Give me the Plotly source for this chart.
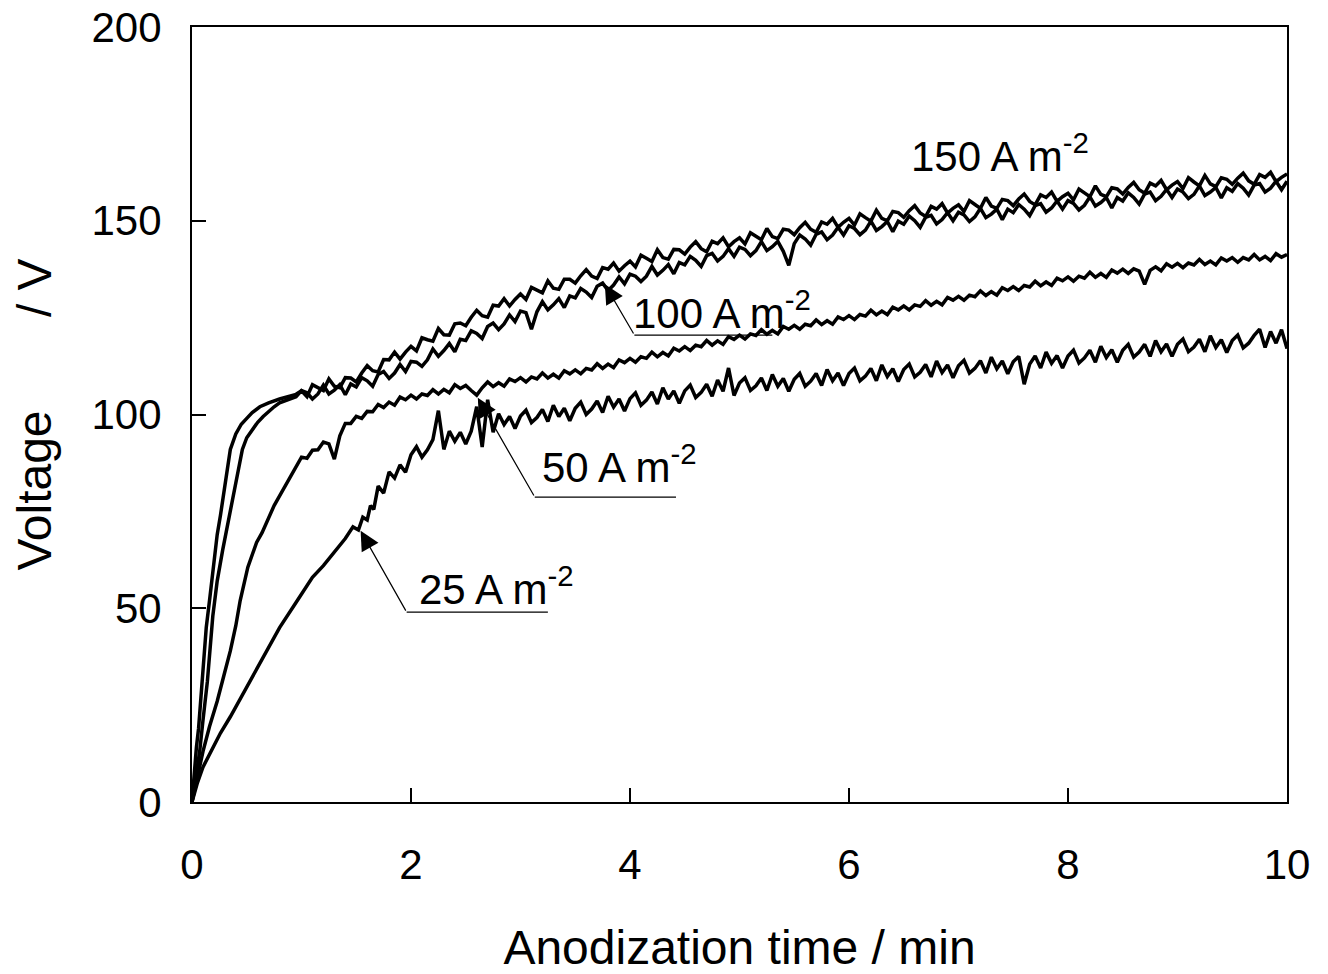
import numpy as np
import plotly.graph_objects as go

# ---------------- data ----------------
# early (steep) part of each curve: time / min and voltage / V
t150_early = [0, 0.02, 0.04, 0.06, 0.08, 0.10, 0.13, 0.16, 0.20, 0.23, 0.26, 0.28, 0.31,
              0.35, 0.40, 0.45, 0.50, 0.55, 0.62, 0.70, 0.80, 0.90, 0.95]
v150_early = [0, 8, 14, 19, 26, 35, 45, 52, 62, 69, 74, 78, 84,
              91, 95, 97.5, 99, 100.5, 102, 103, 104, 104.8, 105.2]

t100_early = [0, 0.03, 0.05, 0.07, 0.10, 0.14, 0.19, 0.23, 0.28, 0.33, 0.37, 0.42, 0.46,
              0.50, 0.55, 0.60, 0.65, 0.70, 0.75, 0.80, 0.85, 0.90, 0.95]
v100_early = [0, 6, 9, 13, 21, 31, 48, 57, 65, 72, 78, 85, 91,
              94, 96, 98, 99.5, 100.8, 102, 103, 103.5, 104.2, 104.6]

t50_early = [0, 0.05, 0.10, 0.16, 0.23, 0.29, 0.35, 0.40, 0.44, 0.51, 0.55, 0.59, 0.64,
             0.70, 0.75, 0.80, 0.85, 0.90, 0.95]
v50_early = [0, 7, 13, 19.5, 26, 32.5, 39, 45.5, 52, 60.6, 64, 67, 69.5,
             73.5, 76.5, 79, 81.5, 84, 86.5]

t25_early = [0, 0.05, 0.1, 0.18, 0.26, 0.35, 0.5, 0.65, 0.8, 0.95, 1.1, 1.2, 1.3, 1.4,
             1.47, 1.52, 1.56, 1.6, 1.63, 1.66]
v25_early = [0, 5, 9, 13.5, 17.8, 22, 29.7, 37.5, 45, 51.5, 58, 61, 64.5, 68,
             71, 70.2, 73.5, 72.8, 76.5, 75.5]

# later (noisy) part, sampled every 0.05 min
late_start = {"150": 1.0, "100": 1.0, "50": 1.0, "25": 1.7}
late_step = 0.05

v150_late = [
    106.1, 104.6, 107.7, 106.9, 106.2, 109.2, 107.3, 106.9, 109.5, 109.4,
    108.4, 110.7, 112.6, 111.3, 111.0, 114.2, 114.1, 116.1, 114.3, 116.1,
    117.6, 116.4, 119.8, 119.3, 118.9, 122.2, 120.6, 120.5, 123.4, 123.6,
    122.9, 125.1, 126.9, 125.5, 125.1, 128.2, 128.0, 129.9, 128.0, 129.7,
    131.1, 129.7, 132.8, 132.1, 131.4, 134.5, 132.6, 132.3, 134.9, 134.9,
    133.9, 135.8, 137.4, 135.7, 135.1, 137.9, 137.5, 139.1, 137.0, 138.4,
    139.6, 138.1, 141.1, 140.3, 139.5, 142.5, 140.5, 140.1, 142.6, 142.5,
    141.4, 143.2, 144.6, 142.8, 142.0, 144.7, 144.1, 145.6, 143.3, 144.6,
    145.6, 144.0, 146.9, 146.0, 145.1, 148.0, 145.9, 145.4, 147.8, 147.6,
    146.4, 148.2, 149.6, 147.8, 147.0, 149.7, 149.1, 150.6, 148.3, 149.6,
    150.6, 148.9, 151.8, 150.8, 149.9, 152.7, 150.6, 150.0, 152.4, 152.1,
    150.9, 152.6, 153.9, 152.0, 151.1, 153.7, 153.0, 154.4, 152.0, 153.2,
    154.1, 152.4, 155.2, 154.2, 153.2, 156.0, 153.8, 153.2, 155.5, 155.2,
    153.9, 155.6, 156.9, 155.0, 154.1, 156.7, 156.0, 157.4, 155.0, 156.2,
    157.1, 155.4, 158.2, 157.2, 156.2, 159.0, 156.8, 156.2, 158.5, 158.2,
    156.9, 158.6, 159.9, 158.0, 157.1, 159.7, 159.0, 160.4, 158.0, 159.2,
    160.1, 158.3, 161.1, 160.0, 159.0, 161.7, 159.5, 158.8, 161.1, 160.7,
    159.4, 161.0, 162.3, 160.3, 159.4, 161.9, 161.2, 162.5, 160.1, 161.2,
    162.1,
]

v100_late = [
    106.2, 105.6, 104.0, 105.3, 107.6, 105.3, 106.3, 107.7, 105.1, 107.9,
    107.1, 109.5, 108.7, 107.3, 110.3, 111.1, 109.3, 110.7, 112.9, 111.1,
    113.7, 113.5, 112.4, 114.1, 116.9, 115.0, 116.5, 118.3, 116.2, 119.4,
    119.1, 121.6, 120.9, 119.6, 122.7, 123.6, 121.9, 123.4, 125.7, 124.0,
    126.7, 126.3, 122.0, 126.5, 129.1, 127.0, 128.3, 129.9, 127.6, 130.6,
    130.1, 132.5, 131.6, 130.2, 133.1, 133.9, 132.0, 133.4, 135.5, 133.7,
    136.2, 135.7, 134.3, 135.7, 138.2, 136.0, 137.2, 138.7, 136.3, 139.2,
    138.6, 140.8, 139.8, 138.2, 141.0, 141.6, 139.6, 140.8, 142.8, 140.8,
    143.2, 142.6, 141.0, 142.3, 144.6, 142.3, 143.3, 144.7, 142.1, 138.5,
    144.1, 146.3, 145.3, 143.7, 146.5, 147.1, 145.1, 146.3, 148.3, 146.3,
    148.7, 148.0, 146.4, 147.6, 149.9, 147.5, 148.5, 149.8, 147.2, 149.9,
    149.1, 151.2, 150.0, 148.3, 150.9, 151.4, 149.2, 150.3, 152.1, 150.0,
    152.2, 151.5, 149.8, 151.0, 153.2, 150.8, 151.7, 153.0, 150.3, 153.0,
    152.1, 154.2, 153.0, 151.3, 153.9, 154.4, 152.2, 153.3, 155.1, 153.0,
    155.2, 154.5, 152.8, 154.0, 156.2, 153.8, 154.7, 156.0, 153.3, 156.0,
    155.1, 157.2, 156.0, 154.3, 156.9, 157.4, 155.2, 156.3, 158.1, 156.0,
    158.2, 157.4, 155.7, 156.8, 159.0, 156.5, 157.4, 158.6, 155.9, 158.5,
    157.6, 159.6, 158.4, 156.6, 159.2, 159.6, 157.4, 158.4, 160.2, 158.0,
    160.2,
]

v50_late = [
    89.0, 88.7, 90.8, 90.9, 92.9, 92.4, 88.5, 94.5, 97.7, 97.7, 99.5,
    99.0, 100.8, 100.7, 102.6, 101.8, 103.2, 102.4, 104.5, 103.8, 105.0,
    104.0, 105.3, 104.9, 106.4, 105.3, 106.5, 105.6, 107.7, 106.7, 107.5,
    106.2, 105.0, 106.9, 108.4, 107.2, 108.2, 107.3, 109.2, 108.5, 109.5,
    108.4, 109.7, 109.2, 110.7, 109.4, 110.4, 109.4, 111.3, 110.5, 111.5,
    110.5, 111.9, 111.5, 113.1, 111.9, 113.0, 112.1, 114.1, 113.4, 114.5,
    113.5, 114.9, 114.5, 116.1, 114.9, 116.0, 115.1, 117.1, 116.4, 117.5,
    116.5, 117.9, 117.5, 119.1, 117.9, 119.0, 118.1, 120.1, 119.4, 120.5,
    119.5, 120.8, 120.4, 121.9, 120.7, 121.7, 120.8, 122.7, 122.0, 123.0,
    122.0, 123.3, 122.9, 124.4, 123.2, 124.2, 123.3, 125.2, 124.5, 125.5,
    124.5, 125.8, 125.4, 126.9, 125.7, 126.7, 125.8, 127.7, 127.0, 128.0,
    127.0, 128.3, 127.9, 129.4, 128.2, 129.2, 128.3, 130.2, 129.5, 130.5,
    129.5, 130.8, 130.4, 131.9, 130.7, 131.7, 130.8, 132.7, 132.0, 133.0,
    132.0, 133.3, 132.9, 134.4, 133.2, 134.2, 133.3, 135.2, 134.5, 135.5,
    134.4, 135.7, 135.2, 136.7, 135.4, 136.4, 135.4, 137.3, 136.5, 137.5,
    136.4, 137.6, 137.0, 133.6, 137.2, 138.1, 137.1, 138.9, 138.0, 139.0,
    137.9, 139.1, 138.6, 140.0, 138.7, 139.6, 138.6, 140.4, 139.6, 140.5,
    139.3, 140.5, 139.9, 141.3, 139.9, 140.8, 139.7, 141.5, 140.6, 141.3,
]

v25_late = [
    81.5, 79.7, 85.2, 83.6, 87.0, 85.1, 89.6,
    91.7, 89.0, 90.9, 93.5, 101.0, 91.0, 95.7, 93.1, 95.4, 92.4,
    95.7, 102.0, 91.6, 103.8, 95.4, 100.2, 97.4, 99.5, 96.4, 99.6,
    101.1, 97.9, 99.2, 101.3, 98.2, 102.4, 99.5, 101.6, 98.4, 101.6,
    103.2, 100.0, 101.4, 103.5, 100.5, 104.7, 101.9, 104.0, 100.9, 104.1,
    105.6, 102.4, 103.7, 105.8, 102.7, 106.9, 104.0, 106.1, 102.9, 106.1,
    107.6, 104.4, 105.7, 107.8, 104.7, 108.9, 106.0, 112.0, 104.9, 108.1,
    109.5, 106.2, 107.4, 109.4, 106.2, 110.3, 107.3, 109.3, 106.0, 109.1,
    110.6, 107.3, 108.6, 110.6, 107.5, 111.6, 108.7, 110.7, 107.5, 110.6,
    112.0, 108.7, 109.9, 111.9, 108.7, 112.8, 109.8, 111.8, 108.5, 111.6,
    113.0, 109.7, 110.9, 112.9, 109.7, 113.8, 110.8, 112.8, 109.5, 112.6,
    114.0, 110.7, 111.9, 113.9, 110.7, 114.8, 111.8, 113.8, 110.5, 113.6,
    115.0, 107.8, 113.0, 115.1, 112.0, 116.1, 113.2, 115.2, 112.0, 115.1,
    116.6, 113.3, 114.6, 116.6, 113.5, 117.6, 114.7, 116.7, 113.5, 116.6,
    118.1, 114.8, 116.1, 118.1, 115.0, 119.1, 116.2, 118.2, 115.0, 118.1,
    119.5, 116.2, 117.4, 119.4, 116.2, 120.3, 117.3, 119.3, 116.0, 119.1,
    120.5, 117.2, 118.4, 120.4, 122.0, 117.3, 121.4, 118.4, 121.9, 117.0,
]

series_names = ["150", "100", "50", "25"]
x_ticks = [0, 2, 4, 6, 8, 10]
y_ticks = [0, 50, 100, 150, 200]

FONT = "Liberation Sans, Arial, sans-serif"


def grid(start, n):
    return list(np.round(start + late_step * np.arange(n), 3))


curves = {
    "150": (t150_early + grid(late_start["150"], len(v150_late)), v150_early + v150_late),
    "100": (t100_early + grid(late_start["100"], len(v100_late)), v100_early + v100_late),
    "50": (t50_early + grid(late_start["50"], len(v50_late)), v50_early + v50_late),
    "25": (t25_early + grid(late_start["25"], len(v25_late)), v25_early + v25_late),
}

fig = go.Figure()
for name in series_names:
    tx, vy = curves[name]
    fig.add_trace(go.Scatter(x=tx, y=vy, mode="lines", name=name + " A m-2",
                             line=dict(color="black", width=3.5)))

# ---------------- callouts ----------------
# label text position, arrow tip, bend, end of horizontal underline (data units)
callouts = [
    dict(label="100", text=(4.84, 127.0), tip=(3.77, 133.6), bend=(4.04, 120.5), end=(5.30, 120.5)),
    dict(label="50", text=(3.90, 87.3), tip=(2.61, 104.3), bend=(3.13, 78.7), end=(4.42, 78.7)),
    dict(label="25", text=(2.78, 55.8), tip=(1.54, 70.0), bend=(1.96, 49.0), end=(3.25, 49.0)),
]
annotations = []
shapes = []
for c in callouts:
    annotations.append(dict(x=c["text"][0], y=c["text"][1], xref="x", yref="y",
                            text=c["label"] + " A m<sup>-2</sup>", showarrow=False,
                            font=dict(family=FONT, size=42, color="black"),
                            xanchor="center", yanchor="middle"))
    annotations.append(dict(x=c["tip"][0], y=c["tip"][1], ax=c["bend"][0], ay=c["bend"][1],
                            xref="x", yref="y", axref="x", ayref="y", text="",
                            showarrow=True, arrowhead=2, arrowsize=3.2, arrowwidth=1.2,
                            arrowcolor="black", standoff=0))
    shapes.append(dict(type="line", xref="x", yref="y", x0=c["bend"][0], y0=c["bend"][1],
                       x1=c["end"][0], y1=c["end"][1], line=dict(color="black", width=1.2)))

annotations.append(dict(x=7.38, y=167.5, xref="x", yref="y", text="150 A m<sup>-2</sup>",
                        showarrow=False, font=dict(family=FONT, size=42, color="black"),
                        xanchor="center", yanchor="middle"))

# the page body has an 8 px margin, so the figure is made 8 px smaller on each axis
fig.update_layout(
    width=1320, height=966,
    margin=dict(l=184, r=41, t=19, b=172, autoexpand=False),
    plot_bgcolor="white", paper_bgcolor="white",
    showlegend=False,
    font=dict(family=FONT, color="black"),
    annotations=annotations,
    shapes=shapes,
    xaxis=dict(range=[0, 10], tickvals=x_ticks, ticktext=[str(v) for v in x_ticks],
               ticks="inside", ticklen=14, tickwidth=2, tickcolor="black",
               showline=True, linecolor="black", linewidth=2, mirror=True,
               showgrid=False, zeroline=False, automargin=False,
               ticklabeloverflow="allow",
               tickfont=dict(family=FONT, size=42, color="black"),
               ticklabelstandoff=25,
               title=dict(text="Anodization time / min",
                          font=dict(family=FONT, size=48, color="black"), standoff=48)),
    yaxis=dict(range=[0, 200], tickvals=y_ticks, ticktext=[str(v) for v in y_ticks],
               ticks="inside", ticklen=14, tickwidth=2, tickcolor="black",
               showline=True, linecolor="black", linewidth=2, mirror=True,
               showgrid=False, zeroline=False, automargin=False,
               ticklabeloverflow="allow",
               tickfont=dict(family=FONT, size=42, color="black"),
               ticklabelstandoff=20,
               title=dict(text="Voltage" + "\u00a0" * 7 + "/ V",
                          font=dict(family=FONT, size=48, color="black"), standoff=30)),
)

fig.write_html("out.html")
